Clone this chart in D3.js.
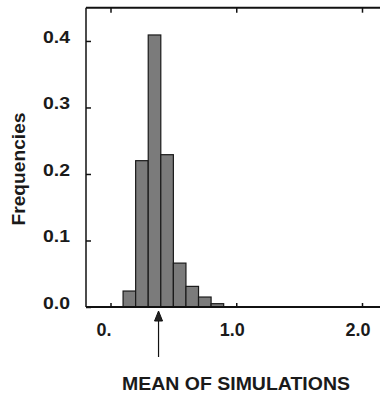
<!DOCTYPE html>
<html><head><meta charset="utf-8">
<script src="https://cdn.jsdelivr.net/npm/d3@7"></script>
<style>body{margin:0;background:#fff}svg{display:block}text{font-family:"Liberation Sans",Arial,sans-serif;font-weight:bold;fill:#1a1a1a}</style>
</head><body>
<svg id="c" width="380" height="400"></svg>
<script>
const binStarts = [0.1, 0.2, 0.3, 0.4, 0.5, 0.6, 0.7, 0.8];
const binWidth = 0.1;
const frequencies = [0.024, 0.22, 0.409, 0.229, 0.066, 0.031, 0.015, 0.005];
const yTicks = [0.0, 0.1, 0.2, 0.3, 0.4];
const yTickLabels = ["0.0", "0.1", "0.2", "0.3", "0.4"];
const xTicks = [0, 1, 2];
const xTickLabels = ["0.", "1.0", "2.0"];
const meanValue = 0.382;
const xTitle = "MEAN OF SIMULATIONS";
const yTitle = "Frequencies";

(function () {
const svg = d3.select("#c");
const x = d3.scaleLinear().domain([0, 2]).range([110.5, 362]);
const y = d3.scaleLinear().domain([0, 0.45]).range([307, 7.7]);
const leftX = 86, rightX = 380, topY = y(0.45), bottomY = y(0);

// bars
svg.append("g").selectAll("rect").data(binStarts).join("rect")
  .attr("x", (d) => x(d))
  .attr("width", x(binWidth) - x(0))
  .attr("y", (d, i) => y(frequencies[i]))
  .attr("height", (d, i) => y(0) - y(frequencies[i]))
  .attr("fill", "#7b7b7b").attr("stroke", "#1a1a1a").attr("stroke-width", 1.2);

// frame lines
svg.append("line").attr("x1", leftX).attr("x2", rightX).attr("y1", topY).attr("y2", topY)
  .attr("stroke", "#111").attr("stroke-width", 2);
svg.append("line").attr("x1", leftX).attr("x2", leftX).attr("y1", topY).attr("y2", bottomY)
  .attr("stroke", "#111").attr("stroke-width", 1.5);
svg.append("line").attr("x1", leftX).attr("x2", rightX).attr("y1", bottomY).attr("y2", bottomY)
  .attr("stroke", "#111").attr("stroke-width", 2);

// y axis ticks + labels
const yAxis = svg.append("g").attr("transform", `translate(${leftX},0)`)
  .call(d3.axisRight(y).tickValues(yTicks).tickSize(5).tickFormat(""));
yAxis.select(".domain").remove();
yAxis.selectAll(".tick line").attr("stroke", "#111").attr("stroke-width", 1.5);
svg.append("g").selectAll("text").data(yTicks).join("text")
  .attr("x", 70).attr("y", (d) => y(d) + 2)
  .attr("text-anchor", "end").attr("font-size", 16.5)
  .attr("textLength", 27).attr("lengthAdjust", "spacingAndGlyphs")
  .text((d, i) => yTickLabels[i]);

// x axis ticks (bottom and top, inward) + labels
const xAxis = svg.append("g").attr("transform", `translate(0,${bottomY})`)
  .call(d3.axisTop(x).tickValues(xTicks).tickSize(4).tickFormat(""));
xAxis.select(".domain").remove();
xAxis.selectAll(".tick line").attr("stroke", "#111").attr("stroke-width", 1.5);
const xAxisTop = svg.append("g").attr("transform", `translate(0,${topY})`)
  .call(d3.axisBottom(x).tickValues(xTicks).tickSize(5).tickFormat(""));
xAxisTop.select(".domain").remove();
xAxisTop.selectAll(".tick line").attr("stroke", "#111").attr("stroke-width", 1.5);

svg.append("g").selectAll("text").data(xTicks).join("text")
  .attr("x", (d) => d === 0 ? x(d) + 1 : x(d) - 4)
  .attr("y", 336)
  .attr("text-anchor", (d) => d === 0 ? "end" : "middle")
  .attr("font-size", 18.5)
  .attr("textLength", (d, i) => xTickLabels[i].length === 2 ? 15 : 25)
  .attr("lengthAdjust", "spacingAndGlyphs")
  .text((d, i) => xTickLabels[i]);

// mean arrow
const mx = x(meanValue);
svg.append("line").attr("x1", mx).attr("x2", mx).attr("y1", 318).attr("y2", 357)
  .attr("stroke", "#111").attr("stroke-width", 1.2);
svg.append("path").attr("d", `M${mx},311 L${mx - 4},321 L${mx + 4},321 Z`)
  .attr("fill", "#222").attr("stroke", "#111").attr("stroke-width", 1);

// titles
svg.append("text").attr("x", 236).attr("y", 390).attr("text-anchor", "middle")
  .attr("font-size", 18.5).attr("textLength", 228).attr("lengthAdjust", "spacingAndGlyphs")
  .text(xTitle);
svg.append("text").attr("transform", "translate(25,169) rotate(-90)")
  .attr("text-anchor", "middle").attr("font-size", 17.5)
  .attr("textLength", 113).attr("lengthAdjust", "spacingAndGlyphs")
  .text(yTitle);
})();
</script>
</body></html>
